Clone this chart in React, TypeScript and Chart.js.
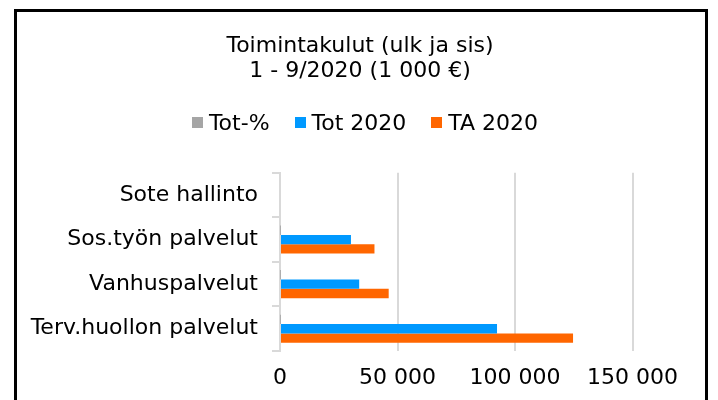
import React, { useEffect, useRef } from "react";
import { Chart, registerables } from "chart.js";

Chart.register(...registerables);

const categories = ["Sote hallinto", "Sos.työn palvelut", "Vanhuspalvelut", "Terv.huollon palvelut"];
const seriesNames = ["Tot-%", "Tot 2020", "TA 2020"];
const totPct = [null, 75, 73, 74];
const tot2020 = [null, 30200, 33700, 92350];
const ta2020 = [null, 40200, 46250, 124700];
const xMin = 0;
const xMax = 150000;
const xStep = 50000;
const titleLines = ["Toimintakulut (ulk ja sis)", "1 - 9/2020 (1 000 €)"];
const seriesColors = ["#A5A5A5", "#0099FF", "#FF6600"];

const FONT = '"DejaVu Sans", Verdana, sans-serif';
const FS = 22;

const fmt = (v: number) => String(v).replace(/\B(?=(\d{3})+(?!\d))/g, " ");

const headerPlugin = {
  id: "header",
  afterDraw(chart: any) {
    const ctx = chart.ctx as CanvasRenderingContext2D;
    ctx.save();
    ctx.font = `${FS}px ${FONT}`;
    ctx.textBaseline = "alphabetic";
    // title
    ctx.fillStyle = "#000";
    ctx.textAlign = "center";
    titleLines.forEach((line, i) => ctx.fillText(line, 360, 52 + i * 25));
    // legend
    ctx.textAlign = "left";
    const box = 11;
    const gap = 6;
    const itemGap = 25;
    const items = chart.data.datasets.map((d: any) => ({ label: d.label, color: d.backgroundColor }));
    const widths = items.map((i: any) => ctx.measureText(i.label).width);
    const total =
      widths.reduce((a: number, w: number) => a + box + gap + w, 0) + itemGap * (items.length - 1);
    let x = 365 - total / 2;
    items.forEach((it: any, i: number) => {
      ctx.fillStyle = it.color;
      ctx.fillRect(Math.round(x), 117, box, box);
      ctx.fillStyle = "#000";
      ctx.fillText(it.label, x + box + gap, 130);
      x += box + gap + widths[i] + itemGap;
    });
    ctx.restore();
  },
};

export default function App() {
  const ref = useRef<HTMLCanvasElement | null>(null);

  useEffect(() => {
    if (!ref.current) return;
    const values = [totPct, tot2020, ta2020];
    const chart = new Chart(ref.current, {
      type: "bar",
      data: {
        labels: categories,
        datasets: seriesNames.map((name, i) => ({
          label: name,
          data: values[i],
          backgroundColor: seriesColors[i],
          borderWidth: 0,
          barPercentage: 1,
          categoryPercentage: 0.63,
        })),
      },
      options: {
        indexAxis: "y",
        animation: false,
        responsive: false,
        layout: { padding: { left: 0, right: 85.5, top: 172.7, bottom: 0 } },
        plugins: {
          legend: { display: false },
          tooltip: { enabled: false },
          title: { display: false },
        },
        scales: {
          x: {
            type: "linear",
            min: xMin,
            max: xMax,
            ticks: {
              stepSize: xStep,
              color: "#000",
              font: { family: FONT, size: FS },
              padding: 14.5,
              maxRotation: 0,
              callback: (v: any) => fmt(Number(v)),
            },
            grid: { color: "#d9d9d9", lineWidth: 2, drawTicks: false },
            border: { display: false },
            afterFit: (s: any) => {
              s.height = 49;
            },
          },
          y: {
            ticks: {
              color: "#000",
              font: { family: FONT, size: FS },
              padding: 14,
            },
            grid: {
              drawOnChartArea: false,
              drawTicks: true,
              tickLength: 8,
              color: "#d9d9d9",
              lineWidth: 2,
              offset: true,
            },
            border: { display: true, color: "#d9d9d9", width: 2 },
            afterFit: (s: any) => {
              s.width = 280;
            },
          },
        },
      },
      plugins: [headerPlugin],
    });
    return () => chart.destroy();
  }, []);

  return (
    <div style={{ position: "absolute", left: 0, top: 0, width: 718, height: 400, overflow: "hidden", background: "#fff" }}>
      <div
        style={{
          position: "absolute",
          left: 14,
          top: 9,
          width: 694,
          height: 391,
          boxSizing: "border-box",
          border: "3px solid #000",
          borderBottom: "none",
        }}
      />
      <canvas ref={ref} width={718} height={400} style={{ position: "absolute", left: 0, top: 0 }} />
    </div>
  );
}
